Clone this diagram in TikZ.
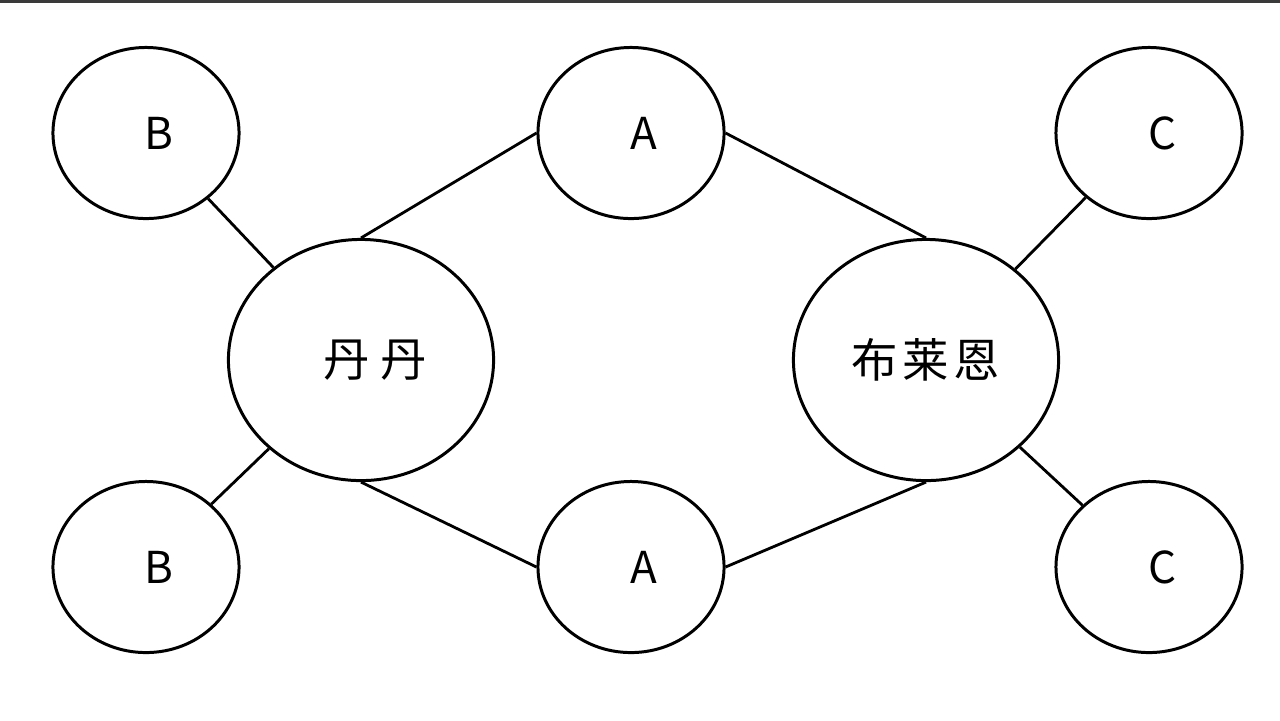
\documentclass[tikz,border=0pt]{standalone}
\usepackage{fontspec}
\setmainfont{Noto Sans CJK SC}
\usetikzlibrary{shapes.geometric}
\definecolor{Ink}{HTML}{000000}
\definecolor{TopBar}{HTML}{3A3A3A}
\newcommand{\lbl}[1]{\hspace{0.26cm}#1}
\begin{document}
\begin{tikzpicture}[
  x=0.01cm, y=-0.01cm,
  small/.style={draw=Ink, line width=0.85pt, ellipse, inner sep=0pt, minimum width=1.86cm, minimum height=1.71cm, font=\fontsize{12.5}{14}\selectfont},
  big/.style={draw=Ink, line width=0.85pt, ellipse, inner sep=0pt, minimum width=2.65cm, minimum height=2.41cm, font=\fontsize{13.2}{15}\selectfont},
  link/.style={Ink, line width=0.8pt}
]
\useasboundingbox (0,0) rectangle (1280,720);
\fill[TopBar] (0,0) rectangle (1280,2.5);
% outer nodes
\node[small] (b1) at (146,133) {\lbl{B}};
\node[small] (b2) at (146,567) {\lbl{B}};
\node[small] (a1) at (631,133) {\lbl{A}};
\node[small] (a2) at (631,567) {\lbl{A}};
\node[small] (c1) at (1149,133) {\lbl{C}};
\node[small] (c2) at (1149,567) {\lbl{C}};
% people
\node[big] (dan) at (361,360) {\hspace{0.28cm}丹\hspace{0.22em}丹};
\node[big] (brian) at (926,360) {布\hspace{0.1em}莱\hspace{0.1em}恩};
% links
\draw[link] (b1) -- (dan);
\draw[link] (b2) -- (dan);
\draw[link] (dan.north) -- (a1.west);
\draw[link] (dan.south) -- (a2.west);
\draw[link] (a1.east) -- (brian.north);
\draw[link] (a2.east) -- (brian.south);
\draw[link] (c1) -- (brian);
\draw[link] (c2) -- (brian);
\end{tikzpicture}
\end{document}
